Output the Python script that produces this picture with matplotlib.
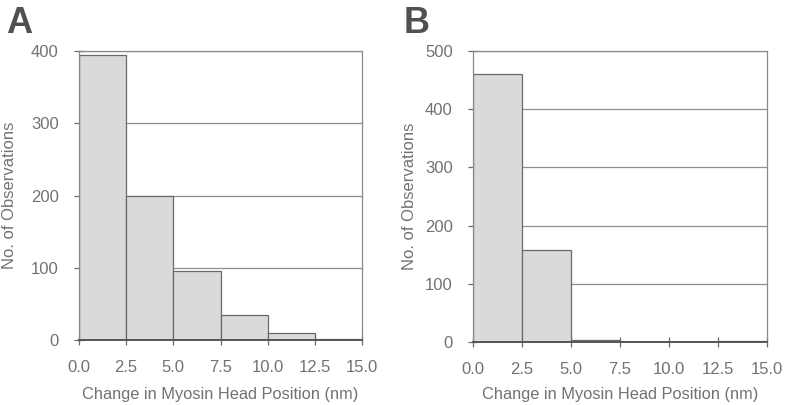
import matplotlib
matplotlib.use("Agg")
import matplotlib.pyplot as plt
import numpy as np

bin_edges = [0.0, 2.5, 5.0, 7.5, 10.0, 12.5, 15.0]
counts_a = [395, 200, 96, 34, 9, 2]
counts_b = [460, 158, 3, 0, 0, 2]
xticks = [0.0, 2.5, 5.0, 7.5, 10.0, 12.5, 15.0]
yticks_a = [0, 100, 200, 300, 400]
yticks_b = [0, 100, 200, 300, 400, 500]
xlabel = "Change in Myosin Head Position (nm)"
ylabel = "No. of Observations"

plt.rcParams['font.family'] = ['Liberation Sans', 'DejaVu Sans']
txt = '#727272'
fig = plt.figure(figsize=(7.87, 4.05), dpi=100)
W, H = 787, 405

def panel(rect, counts, yticks, label, lx, ylab_x, xlab_y):
    l, t, r, b = rect
    ax = fig.add_axes([l / W, 1 - b / H, (r - l) / W, (b - t) / H])
    widths = np.diff(bin_edges)
    ax.set_axisbelow(True)
    ax.bar(bin_edges[:-1], counts, width=widths, align='edge',
           color='#dadada', edgecolor='#6a6a6a', linewidth=0.9, zorder=2)
    ax.set_xlim(0, 15)
    ax.set_ylim(0, yticks[-1])
    ax.set_xticks(xticks)
    ax.set_xticklabels([f"{v:.1f}" for v in xticks])
    ax.set_yticks(yticks)
    ax.yaxis.grid(True, color='#8f8f8f', linewidth=0.9, zorder=0)
    for s in ax.spines.values():
        s.set_color('#8a8a8a')
        s.set_linewidth(0.9)
    ax.spines['bottom'].set_color('#555555')
    ax.spines['bottom'].set_linewidth(1.4)
    ax.tick_params(axis='both', direction='inout', length=7, width=0.9,
                   color='#6a6a6a', labelcolor=txt, labelsize=12)
    ax.tick_params(axis='x', pad=11)
    ax.tick_params(axis='y', pad=11)
    ax.set_xlabel(xlabel, color=txt, fontsize=11.8)
    ax.set_ylabel(ylabel, color=txt, fontsize=12)
    ax.xaxis.set_label_coords(0.5, (b - xlab_y) / (b - t))
    ax.yaxis.set_label_coords((ylab_x - l) / (r - l), 0.5)
    ax.xaxis.label.set_va('center')
    ax.yaxis.label.set_va('center')
    fig.text(lx / W, 1 - 6 / H, label, fontsize=26, fontweight='bold',
             color='#505050', va='top', ha='left')
    return ax

panel((79, 51, 362, 340), counts_a, yticks_a, "A", 6, 10, 395)
panel((473, 51, 767, 342), counts_b, yticks_b, "B", 404, 410, 395)

fig.savefig("out.png", dpi=100)
